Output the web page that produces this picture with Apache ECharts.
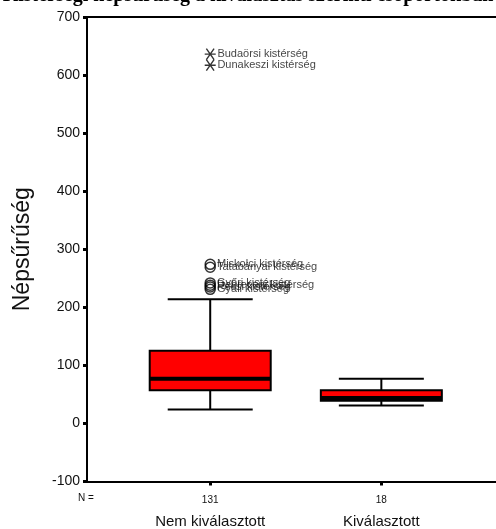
<!DOCTYPE html>
<html><head><meta charset="utf-8">
<script src="https://cdn.jsdelivr.net/npm/echarts@6/dist/echarts.min.js"></script>
<style>html,body{margin:0;padding:0;background:#fff}#c{width:496px;height:529px}</style>
</head><body><div id="c"></div>
<script>
const titleText = 'Kistérségi népsűrűség a kiválasztás szerinti csoportokban';
const categories = ['Nem kiválasztott', 'Kiválasztott'];
const counts = [131, 18];
// [low whisker, Q1, median, Q3, high whisker]
const boxStats = [
  [24, 57, 77, 125, 214],
  [31, 39, 44, 57, 77]
];
const extremeNames = ['Budaörsi kistérség', 'Dunakeszi kistérség'];
const extremeValues = [636, 617];
const outlierNames = ['Miskolci kistérség', 'Tatabányai kistérség', 'Győri kistérség', 'Debreceni kistérség', 'Pécsi kistérség', 'Gyáli kistérség'];
const outlierValues = [274, 269, 242, 238, 235, 231];
const yTicks = [-100, 0, 100, 200, 300, 400, 500, 600, 700];

const chart = echarts.init(document.getElementById('c'), null, {renderer: 'canvas'});
const boxData = boxStats.map((s, i) => [i + 1].concat(s));
const option = {
  animation: false,
  title: {
    text: titleText, left: 'center', top: -19,
    textStyle: {fontFamily: 'Liberation Serif', fontWeight: 'bold', fontSize: 20, color: '#000'}
  },
  grid: {left: 87, right: 0, top: 17, bottom: 45},
  xAxis: [{
    type: 'value', min: 0.28, max: 2.67,
    splitLine: {show: false},
    axisLine: {show: true, onZero: false, lineStyle: {color: '#000', width: 2}},
    axisTick: {show: true, customValues: [1, 2], length: 4, lineStyle: {color: '#000', width: 3}},
    axisLabel: {
      show: true, customValues: [1, 2], margin: 8,
      formatter: v => '{n|' + counts[v - 1] + '}\n{c|' + categories[v - 1] + '}',
      rich: {
        n: {fontFamily: 'Liberation Sans', fontSize: 10, color: '#111', height: 22, verticalAlign: 'top'},
        c: {fontFamily: 'Liberation Sans', fontSize: 15, color: '#111', height: 20}
      }
    }
  }, {
    type: 'value', min: 0.28, max: 2.67, position: 'top',
    splitLine: {show: false},
    axisLine: {show: true, onZero: false, lineStyle: {color: '#000', width: 2}},
    axisTick: {show: false}, axisLabel: {show: false}
  }],
  yAxis: {
    type: 'value', min: -100, max: 700, interval: 100,
    name: 'Népsűrűség', nameLocation: 'middle', nameGap: 53, nameRotate: 90,
    nameTextStyle: {fontFamily: 'Liberation Sans', fontSize: 23, color: '#111'},
    splitLine: {show: false},
    axisLine: {show: true, onZero: false, lineStyle: {color: '#000', width: 2}},
    axisTick: {show: true, length: 4, lineStyle: {color: '#000', width: 3}},
    axisLabel: {fontFamily: 'Liberation Sans', fontSize: 14, color: '#111', margin: 7,
      formatter: v => yTicks.includes(v) ? String(v) : ''}
  },
  graphic: [{
    type: 'text', left: 78, top: 493,
    style: {text: 'N =', fontFamily: 'Liberation Sans', fontSize: 10, fill: '#111'}
  }],
  series: [{
    type: 'custom',
    data: boxData,
    renderItem: (params, api) => {
      const x = api.value(0);
      const lo = api.coord([x, api.value(1)]);
      const q1 = api.coord([x, api.value(2)]);
      const md = api.coord([x, api.value(3)]);
      const q3 = api.coord([x, api.value(4)]);
      const hi = api.coord([x, api.value(5)]);
      const cx = lo[0], bw = 121, cw = 85;
      const ls = {stroke: '#000', lineWidth: 2};
      return {type: 'group', children: [
        {type: 'line', shape: {x1: cx, y1: lo[1], x2: cx, y2: q1[1]}, style: ls},
        {type: 'line', shape: {x1: cx, y1: q3[1], x2: cx, y2: hi[1]}, style: ls},
        {type: 'line', shape: {x1: cx - cw / 2, y1: lo[1], x2: cx + cw / 2, y2: lo[1]}, style: ls},
        {type: 'line', shape: {x1: cx - cw / 2, y1: hi[1], x2: cx + cw / 2, y2: hi[1]}, style: ls},
        {type: 'rect', shape: {x: cx - bw / 2, y: q3[1], width: bw, height: q1[1] - q3[1]},
          style: {fill: '#ff0000', stroke: '#000', lineWidth: 2}},
        {type: 'rect', shape: {x: cx - bw / 2, y: md[1] - 2, width: bw, height: 4},
          style: {fill: '#000'}}
      ]};
    }
  }, {
    type: 'scatter',
    data: outlierValues.map((v, i) => ({name: outlierNames[i], value: [1, v]})),
    symbol: 'circle', symbolSize: 10,
    itemStyle: {color: 'rgba(255,255,255,0)', borderColor: '#000', borderWidth: 1.5},
    label: {show: true, position: 'right', distance: 1, formatter: p => p.name,
      fontFamily: 'Liberation Sans', fontSize: 11, color: '#111'}
  }, {
    type: 'scatter',
    data: extremeValues.map((v, i) => ({name: extremeNames[i], value: [1, v]})),
    symbol: 'path://M0,5L10,5M1.5,1.5L8.5,8.5M1.5,8.5L8.5,1.5', symbolSize: 11,
    itemStyle: {color: 'rgba(0,0,0,0)', borderColor: '#000', borderWidth: 1.4},
    label: {show: true, position: 'right', distance: 1, formatter: p => p.name,
      fontFamily: 'Liberation Sans', fontSize: 11, color: '#111'}
  }]
};
chart.setOption(option);
</script></body></html>
